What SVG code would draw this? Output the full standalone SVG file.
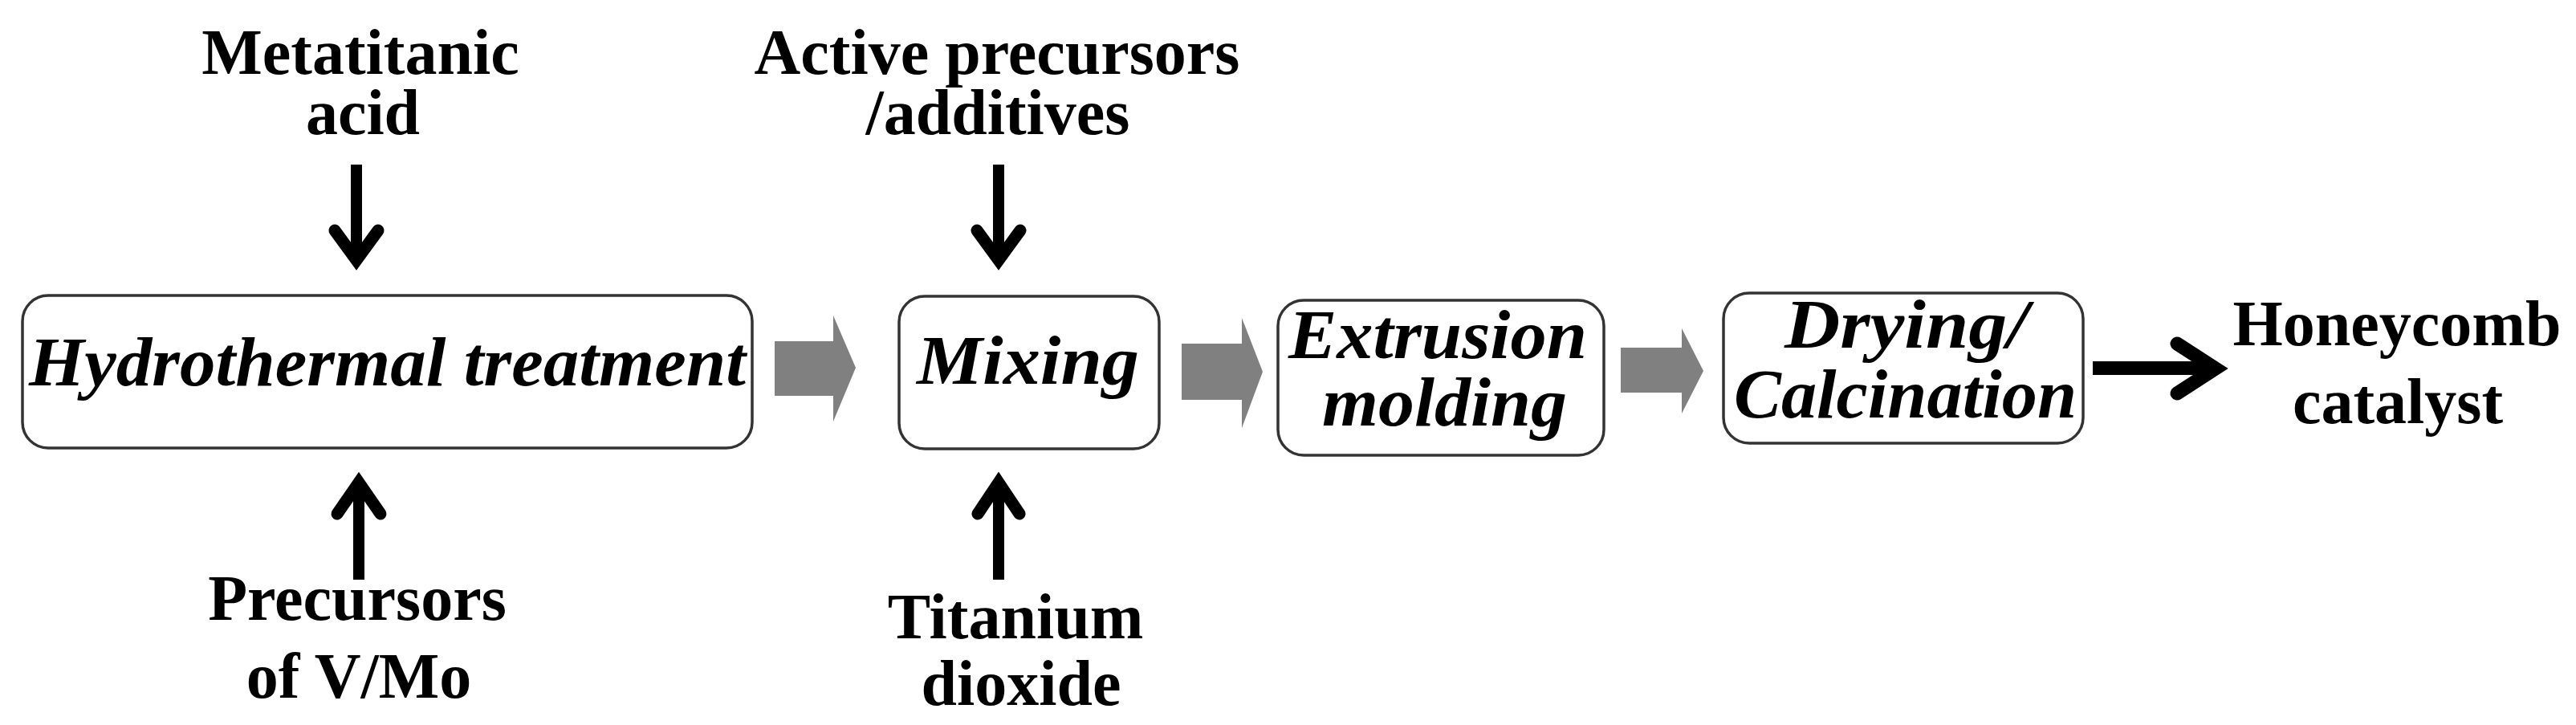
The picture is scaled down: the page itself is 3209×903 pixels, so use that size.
<svg xmlns="http://www.w3.org/2000/svg" width="3209" height="903" viewBox="0 0 3209 903">
<style>
.lbl{font-family:"Liberation Serif","Times New Roman",serif;font-weight:bold;font-size:80px;fill:#000;text-anchor:middle}
.box{fill:#fff;stroke:#333;stroke-width:3.5}
.bt{font-family:"Liberation Serif","Times New Roman",serif;font-weight:bold;font-style:italic;font-size:86px;fill:#000}
.shaft{stroke:#000;stroke-width:14;fill:none;stroke-linecap:butt}
.head{stroke:#000;stroke-width:15;fill:none;stroke-linecap:round;stroke-linejoin:miter}
.gray{fill:#808080}
</style>
<rect width="3209" height="903" fill="#fff"/>

<g id="label-metatitanic">
<text class="lbl" x="449" y="92">Metatitanic</text>
<text class="lbl" x="452" y="167">acid</text>
</g>
<g id="label-active">
<text class="lbl" x="1242" y="92">Active precursors</text>
<text class="lbl" x="1243" y="167">/additives</text>
</g>
<g id="label-precursors">
<text class="lbl" x="445" y="772">Precursors</text>
<text class="lbl" x="447" y="869">of V/Mo</text>
</g>
<g id="label-titanium">
<text class="lbl" x="1265" y="795">Titanium</text>
<text class="lbl" x="1272" y="878">dioxide</text>
</g>
<g id="label-honeycomb">
<text class="lbl" x="2986" y="430">Honeycomb</text>
<text class="lbl" x="2987" y="527">catalyst</text>
</g>

<g id="node-hydrothermal">
<rect class="box" x="28" y="368" width="909" height="190" rx="32" ry="32"/>
<text class="bt" x="36" y="480" textLength="893" lengthAdjust="spacingAndGlyphs">Hydrothermal treatment</text>
</g>
<g id="node-mixing">
<rect class="box" x="1120" y="369" width="324" height="190" rx="32" ry="32"/>
<text class="bt" x="1142" y="478" textLength="277" lengthAdjust="spacingAndGlyphs">Mixing</text>
</g>
<g id="node-extrusion">
<rect class="box" x="1592" y="374" width="406" height="193" rx="32" ry="32"/>
<text class="bt" x="1605" y="446" textLength="372" lengthAdjust="spacingAndGlyphs">Extrusion</text>
<text class="bt" x="1647" y="530" textLength="305" lengthAdjust="spacingAndGlyphs">molding</text>
</g>
<g id="node-drying">
<rect class="box" x="2147" y="365" width="448" height="187" rx="32" ry="32"/>
<text class="bt" x="2223" y="433" textLength="304" lengthAdjust="spacingAndGlyphs">Drying/</text>
<text class="bt" x="2160" y="520" textLength="427" lengthAdjust="spacingAndGlyphs">Calcination</text>
</g>

<g id="connectors">
<line class="shaft" x1="444" y1="205" x2="444" y2="326"/>
<polyline class="head" points="417,287 444,324 471,287"/>
<line class="shaft" x1="1244" y1="205" x2="1244" y2="326"/>
<polyline class="head" points="1217,287 1244,324 1271,287"/>
<line class="shaft" x1="447" y1="722" x2="447" y2="602"/>
<polyline class="head" points="420,640 447,601 474,640"/>
<line class="shaft" x1="1244" y1="722" x2="1244" y2="602"/>
<polyline class="head" points="1218,640 1244,601 1270,640"/>
<polygon class="gray" points="965,425 1038,425 1038,393 1066,458 1038,525 1038,493 965,493"/>
<polygon class="gray" points="1472,428 1547,428 1547,396 1573,463 1547,533 1547,498 1472,498"/>
<polygon class="gray" points="2019,433 2095,433 2095,409 2122,462 2095,515 2095,489 2019,489"/>
<line x1="2607" y1="458.5" x2="2760" y2="458.5" stroke="#000" stroke-width="17"/>
<polyline points="2712,428 2760,459 2712,490" fill="none" stroke="#000" stroke-width="17" stroke-linecap="round" stroke-linejoin="miter"/>
</g>
</svg>
